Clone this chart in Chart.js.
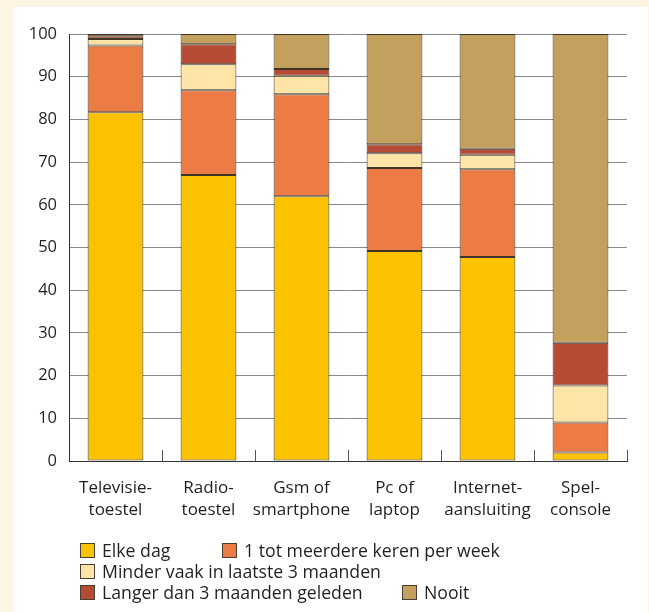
<!DOCTYPE html>
<html>
<head>
<meta charset="utf-8">
<script src="https://cdn.jsdelivr.net/npm/chart.js@4"></script>
<style>
  html, body { margin: 0; padding: 0; }
  body { width: 649px; height: 612px; background: #fdf4e1; position: relative; overflow: hidden;
         font-family: "Open Sans", sans-serif; color: #231f20; }
  #panel { position: absolute; left: 13px; top: 7px; width: 635px; height: 605px; background: #fff; }
  #wrap { position: absolute; left: 0; top: 0; width: 649px; height: 612px; }
  .lg { position: absolute; font-size: 17.7px; line-height: 20px; white-space: nowrap; }
  .lg i { position: absolute; left: 0; top: 3px; width: 13px; height: 13px; border: 1px solid #4a4030; }
  .lg span { padding-left: 22px; }
</style>
</head>
<body>
<div id="panel"></div>
<div id="wrap"><canvas id="chart"></canvas></div>
<div id="legend"></div>
<script>
var categories = [['Televisie-', 'toestel'], ['Radio-', 'toestel'], ['Gsm of', 'smartphone'],
  ['Pc of', 'laptop'], ['Internet-', 'aansluiting'], ['Spel-', 'console']];

var seriesNames = ['Elke dag', '1 tot meerdere keren per week', 'Minder vaak in laatste 3 maanden',
  'Langer dan 3 maanden geleden', 'Nooit'];

var elkeDag    = [81.7, 67.0, 62.0, 49.2, 47.8, 2.0];
var perWeek    = [15.6, 19.8, 23.9, 19.4, 20.5, 7.0];
var minderVaak = [1.5, 6.1, 4.3, 3.5, 3.4, 8.7];
var langer     = [0.7, 4.7, 1.6, 2.1, 1.4, 10.0];
var nooit      = [0.5, 2.4, 8.2, 25.8, 26.9, 72.3];

var yTicks = [0, 10, 20, 30, 40, 50, 60, 70, 80, 90, 100];

var colors = ['#fbc200', '#ec7b45', '#fee5a7', '#b54a35', '#c3a05d'];

// legend placement (left, top) per series, like the printed layout
var legendSpots = [[80, 540], [222, 540], [80, 561], [80, 582], [402, 582]];

var innerTicks = {
  id: 'innerTicks',
  afterDatasetsDraw: function (chart) {
    var x = chart.scales.x, ctx = chart.ctx;
    var step = (x.right - x.left) / categories.length;
    ctx.save();
    ctx.strokeStyle = '#555';
    ctx.lineWidth = 1;
    ctx.beginPath();
    for (var i = 1; i <= categories.length; i++) {
      var px = Math.round(x.left + i * step) + 0.5;
      ctx.moveTo(px, x.top);
      ctx.lineTo(px, x.top - 11);
    }
    ctx.stroke();
    ctx.restore();
  }
};

var data = [elkeDag, perWeek, minderVaak, langer, nooit];
var datasets = seriesNames.map(function (name, i) {
  return {
    label: name,
    data: data[i],
    backgroundColor: colors[i],
    borderColor: '#3e3526',
    borderWidth: 1,
    borderSkipped: false,
    barPercentage: 0.6,
    categoryPercentage: 1.0
  };
});

Chart.defaults.font.family = '"Open Sans", sans-serif';
Chart.defaults.color = '#231f20';

new Chart(document.getElementById('chart'), {
  type: 'bar',
  data: { labels: categories, datasets: datasets },
  options: {
    responsive: true,
    maintainAspectRatio: false,
    animation: false,
    layout: { padding: { left: 0, right: 22, top: 34, bottom: 91 } },
    plugins: { legend: { display: false }, tooltip: { enabled: false } },
    scales: {
      x: {
        stacked: true,
        grid: { display: false },
        border: { display: true, color: '#333', width: 1 },
        ticks: { font: { size: 17, lineHeight: 1.3 }, padding: 8, maxRotation: 0, autoSkip: false },
        afterFit: function (s) { s.height = 60; }
      },
      y: {
        stacked: true,
        min: 0,
        max: 100,
        afterBuildTicks: function (s) { s.ticks = yTicks.map(function (v) { return { value: v }; }); },
        grid: { color: '#8a8a8a', lineWidth: 1, drawTicks: false },
        border: { display: true, color: '#333', width: 1 },
        ticks: { font: { size: 16.5 }, padding: 12 },
        afterFit: function (s) { s.width = 69; }
      }
    }
  },
  plugins: [innerTicks]
});

var legend = document.getElementById('legend');
seriesNames.forEach(function (name, i) {
  var d = document.createElement('div');
  d.className = 'lg';
  d.style.left = legendSpots[i][0] + 'px';
  d.style.top = legendSpots[i][1] + 'px';
  d.innerHTML = '<i style="background:' + colors[i] + '"></i><span></span>';
  d.querySelector('span').textContent = name;
  legend.appendChild(d);
});
</script>
</body>
</html>
